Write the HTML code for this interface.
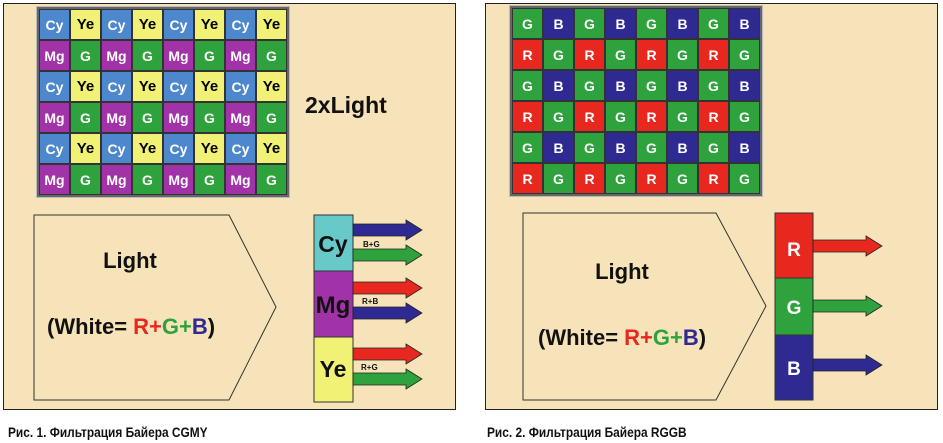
<!DOCTYPE html>
<html><head><meta charset="utf-8"><style>
*{margin:0;padding:0;box-sizing:border-box}
body{width:943px;height:443px;background:#fff;position:relative;overflow:hidden;font-family:"Liberation Sans",sans-serif}
.panel{position:absolute;top:3px;height:407px;background:#f6e3b9;border:1.5px solid #222}
.grid{position:absolute;display:grid;grid-template-columns:repeat(8,31px);grid-template-rows:repeat(6,31px);border:2px solid #666;outline:1px solid #bbb;background:#333;gap:0}
.grid div{display:flex;align-items:center;justify-content:center;font-weight:bold;font-size:14px;color:#fff;border:0.5px solid #333}
.c{background:#4d88cf}.y{background:#f1f176;color:#000!important;font-size:15px!important}.m{background:#a232a8}.g{background:#2ea23c}.r{background:#e8281f}.b{background:#2f2a92}
.cap{position:absolute;top:424px;font-size:14px;font-weight:bold;transform:scaleX(0.85);transform-origin:left;color:#111}
svg{position:absolute;left:0;top:0}
</style></head><body>
<div class="panel" style="left:3px;width:453px"></div>
<div class="panel" style="left:485px;width:453px"></div>

<div class="grid" style="left:37px;top:7px">
<div class="c">Cy</div><div class="y">Ye</div><div class="c">Cy</div><div class="y">Ye</div><div class="c">Cy</div><div class="y">Ye</div><div class="c">Cy</div><div class="y">Ye</div>
<div class="m">Mg</div><div class="g">G</div><div class="m">Mg</div><div class="g">G</div><div class="m">Mg</div><div class="g">G</div><div class="m">Mg</div><div class="g">G</div>
<div class="c">Cy</div><div class="y">Ye</div><div class="c">Cy</div><div class="y">Ye</div><div class="c">Cy</div><div class="y">Ye</div><div class="c">Cy</div><div class="y">Ye</div>
<div class="m">Mg</div><div class="g">G</div><div class="m">Mg</div><div class="g">G</div><div class="m">Mg</div><div class="g">G</div><div class="m">Mg</div><div class="g">G</div>
<div class="c">Cy</div><div class="y">Ye</div><div class="c">Cy</div><div class="y">Ye</div><div class="c">Cy</div><div class="y">Ye</div><div class="c">Cy</div><div class="y">Ye</div>
<div class="m">Mg</div><div class="g">G</div><div class="m">Mg</div><div class="g">G</div><div class="m">Mg</div><div class="g">G</div><div class="m">Mg</div><div class="g">G</div>
</div>

<div class="grid" style="left:510px;top:6px">
<div class="g">G</div><div class="b">B</div><div class="g">G</div><div class="b">B</div><div class="g">G</div><div class="b">B</div><div class="g">G</div><div class="b">B</div>
<div class="r">R</div><div class="g">G</div><div class="r">R</div><div class="g">G</div><div class="r">R</div><div class="g">G</div><div class="r">R</div><div class="g">G</div>
<div class="g">G</div><div class="b">B</div><div class="g">G</div><div class="b">B</div><div class="g">G</div><div class="b">B</div><div class="g">G</div><div class="b">B</div>
<div class="r">R</div><div class="g">G</div><div class="r">R</div><div class="g">G</div><div class="r">R</div><div class="g">G</div><div class="r">R</div><div class="g">G</div>
<div class="g">G</div><div class="b">B</div><div class="g">G</div><div class="b">B</div><div class="g">G</div><div class="b">B</div><div class="g">G</div><div class="b">B</div>
<div class="r">R</div><div class="g">G</div><div class="r">R</div><div class="g">G</div><div class="r">R</div><div class="g">G</div><div class="r">R</div><div class="g">G</div>
</div>

<svg width="943" height="443" viewBox="0 0 943 443">
<defs>
<g id="ar"><path d="M0,-6 H53 V-10 L69,0 L53,10 V6 H0 Z" stroke="#222" stroke-width="0.8"/></g>
</defs>
<g font-family="Liberation Sans, sans-serif" font-weight="bold">
<text x="305" y="113" font-size="23" fill="#111">2xLight</text>

<polygon points="34,215 229,215 276,307 229,400 34,400" fill="#f6e3b9" stroke="#333" stroke-width="1"/>
<text x="130" y="268" font-size="22" text-anchor="middle" fill="#111">Light</text>
<text x="47" y="334" font-size="22" fill="#111">(White= <tspan fill="#e8281f">R+</tspan><tspan fill="#2ea23c">G+</tspan><tspan fill="#2f2a92">B</tspan>)</text>

<rect x="314" y="215" width="39" height="56" fill="#68c9c9" stroke="#333"/>
<rect x="314" y="271" width="39" height="66" fill="#a232a8" stroke="#333"/>
<rect x="314" y="337" width="39" height="65" fill="#f1f176" stroke="#333"/>
<text x="333" y="252" font-size="23" text-anchor="middle" fill="#111">Cy</text>
<text x="333" y="313" font-size="24" text-anchor="middle" fill="#111">Mg</text>
<text x="333" y="377" font-size="23" text-anchor="middle" fill="#111">Ye</text>
<use href="#ar" x="353" y="230" fill="#2f2a92"/>
<use href="#ar" x="353" y="255" fill="#2ea23c"/>
<use href="#ar" x="353" y="288" fill="#e8281f"/>
<use href="#ar" x="353" y="313" fill="#2f2a92"/>
<use href="#ar" x="353" y="354" fill="#e8281f"/>
<use href="#ar" x="353" y="379" fill="#2ea23c"/>
<text x="363" y="247" font-size="8" fill="#111">B+G</text>
<text x="362" y="304" font-size="8" fill="#111">R+B</text>
<text x="361" y="370" font-size="8" fill="#111">R+G</text>

<polygon points="523,213 716,213 766,306 716,400 523,400" fill="#f6e3b9" stroke="#333" stroke-width="1"/>
<text x="622" y="279" font-size="22" text-anchor="middle" fill="#111">Light</text>
<text x="538" y="345" font-size="22" fill="#111">(White= <tspan fill="#e8281f">R+</tspan><tspan fill="#2ea23c">G+</tspan><tspan fill="#2f2a92">B</tspan>)</text>

<rect x="775" y="213" width="38" height="65" fill="#e8281f" stroke="#333"/>
<rect x="775" y="278" width="38" height="57" fill="#2ea23c" stroke="#333"/>
<rect x="775" y="335" width="38" height="65" fill="#2f2a92" stroke="#333"/>
<text x="794" y="256" font-size="19" text-anchor="middle" fill="#fff">R</text>
<text x="794" y="314" font-size="19" text-anchor="middle" fill="#fff">G</text>
<text x="794" y="375" font-size="19" text-anchor="middle" fill="#fff">B</text>
<use href="#ar" x="813" y="246" fill="#e8281f"/>
<use href="#ar" x="813" y="306" fill="#2ea23c"/>
<use href="#ar" x="813" y="365" fill="#2f2a92"/>
</g>
</svg>
<div class="cap" style="left:8px">Рис. 1. Фильтрация Байера CGMY</div>
<div class="cap" style="left:487px">Рис. 2. Фильтрация Байера RGGB</div>
</body></html>
